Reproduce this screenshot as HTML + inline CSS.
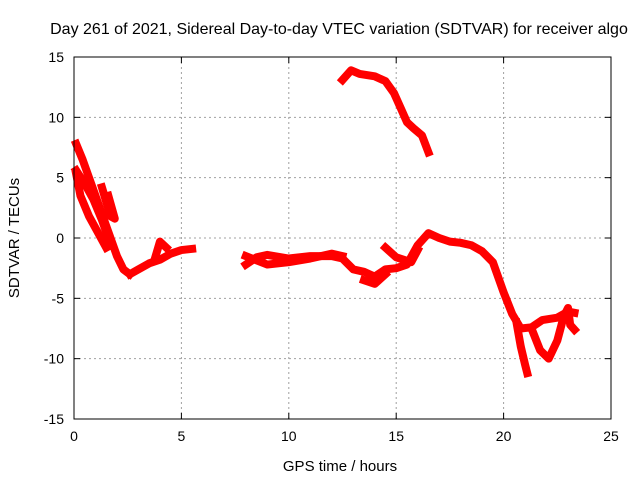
<!DOCTYPE html>
<html><head><meta charset="utf-8"><style>
body{margin:0;background:#fff}
svg{display:block;font-family:"Liberation Sans",sans-serif}
</style></head><body>
<svg id="chart" width="640" height="480">
<text x="339" y="34" font-size="16" text-anchor="middle">Day 261 of 2021, Sidereal Day-to-day VTEC variation (SDTVAR) for receiver algo</text>
<text x="340" y="471" font-size="15" text-anchor="middle">GPS time / hours</text>
<text transform="translate(19,238) rotate(-90)" font-size="15" text-anchor="middle">SDTVAR / TECUs</text>
<g id="grid"></g><g id="marks"></g>
<rect x="74" y="57" width="537" height="362" fill="none" stroke="#000" stroke-width="1"/>
</svg>
<script>
const xTicks=[0,5,10,15,20,25];
const yTicks=[-15,-10,-5,0,5,10,15];
const seriesA1=[[0.1,7.8],[0.4,6.5],[0.8,4.5],[1.2,2.5],[1.6,0.5],[2,-1.5],[2.3,-2.6],[2.6,-3]];
const seriesA2=[[0.1,5.6],[0.5,4.5],[0.9,3.2],[1.3,1.5],[1.7,-0.5]];
const seriesA3=[[0.1,5.3],[0.3,3.5],[0.7,1.8],[1.1,0.5],[1.5,-0.8]];
const seriesA4=[[1.3,4.2],[1.5,3],[1.7,1.8],[1.9,1.6],[1.6,3.5]];
const seriesA5=[[2.6,-3],[3,-2.6],[3.5,-2.1],[4,-1.8],[4.5,-1.3],[5,-1],[5.5,-0.9]];
const seriesA6=[[3.8,-1.5],[4,-0.3],[4.3,-0.8]];
const seriesB1=[[8,-2.2],[8.5,-1.6],[9,-1.4],[10,-1.7],[11,-1.5],[12,-1.5],[12.5,-1.7],[13,-2.6],[13.5,-2.8],[14,-3.2],[14.5,-2.6],[15,-2.5],[15.5,-2.2],[16,-0.6],[16.5,0.4],[17,0],[17.5,-0.3],[18,-0.4],[18.5,-0.6],[19,-1.1],[19.5,-2],[20,-4.5],[20.4,-6.3],[20.8,-7.5],[21.3,-7.4],[21.8,-6.8],[22.5,-6.6],[23,-6.1],[23.3,-6.2]];
const seriesB2=[[8,-1.5],[9,-2.2],[10,-2],[11,-1.7],[12,-1.3],[12.5,-1.5]];
const seriesB3=[[13.5,-3.5],[14,-3.8],[14.5,-3]];
const seriesB4=[[14.5,-0.8],[15,-1.6],[15.7,-2],[16,-1]];
const seriesB5=[[20.6,-7],[20.8,-9],[21,-10.5],[21.1,-11.2]];
const seriesB6=[[21.3,-7.5],[21.7,-9.3],[22.1,-10],[22.5,-8.5],[22.8,-6.5],[23,-5.8],[23.1,-7.2],[23.3,-7.6]];
const seriesC=[[12.5,13.1],[12.9,13.9],[13.3,13.6],[14,13.4],[14.5,13],[14.9,12],[15.2,10.8],[15.5,9.6],[15.8,9.1],[16.2,8.5],[16.5,7.1]];
const allSeries=[seriesA1,seriesA2,seriesA3,seriesA4,seriesA5,seriesA6,seriesB1,seriesB2,seriesB3,seriesB4,seriesB5,seriesB6,seriesC];
const X0=74,X1=611,Y0=419,Y1=57;
const sx=v=>X0+(v-0)/25*(X1-X0);
const sy=v=>Y0-(v+15)/30*(Y0-Y1);
const NS="http://www.w3.org/2000/svg";
const grid=document.getElementById('grid'),marks=document.getElementById('marks');
function mk(t,a,p){const e=document.createElementNS(NS,t);for(const k in a)e.setAttribute(k,a[k]);p.appendChild(e);return e;}
xTicks.forEach(v=>{const x=sx(v);
 if(v>0&&v<25){const g=mk('line',{x1:x,y1:Y0,x2:x,y2:Y1,stroke:'#a0a0a0','stroke-dasharray':'2,3'},grid);
 
 }
 mk('line',{x1:x,y1:Y0,x2:x,y2:Y0-6,stroke:'#000'},grid);mk('line',{x1:x,y1:Y1,x2:x,y2:Y1+6,stroke:'#000'},grid);
 const t=mk('text',{x:x,y:Y0+22,'font-size':14,'text-anchor':'middle'},grid);t.textContent=v;
 
 });
yTicks.forEach(v=>{const y=sy(v);
 if(v>-15&&v<15){const g=mk('line',{x1:X0,y1:y,x2:X1,y2:y,stroke:'#a0a0a0','stroke-dasharray':'2,3'},grid);
 
 }
 mk('line',{x1:X0,y1:y,x2:X0+6,y2:y,stroke:'#000'},grid);mk('line',{x1:X1,y1:y,x2:X1-6,y2:y,stroke:'#000'},grid);
 const t=mk('text',{x:X0-10,y:y+5,'font-size':14,'text-anchor':'end'},grid);t.textContent=v;
 
 });
allSeries.forEach(s=>{const p=mk('polyline',{points:s.map(d=>sx(d[0])+','+sy(d[1])).join(' '),fill:'none',stroke:'#f00','stroke-width':8,'stroke-linejoin':'round','stroke-linecap':'square'},marks);
 
 });
</script>
</body></html>
